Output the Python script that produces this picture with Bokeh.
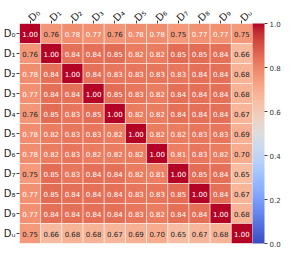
import numpy as np
from bokeh.plotting import figure
from bokeh.models import ColumnDataSource, LinearColorMapper, ColorBar, FixedTicker, PrintfTickFormatter
from bokeh.core.properties import value
from bokeh.embed import file_html
from bokeh.resources import INLINE

labels = ["D\u2080", "D\u2081", "D\u2082", "D\u2083", "D\u2084", "D\u2085",
          "D\u2086", "D\u2087", "D\u2088", "D\u2089", "D\u1d64"]

row_D0 = [1.00, 0.76, 0.78, 0.77, 0.76, 0.78, 0.78, 0.75, 0.77, 0.77, 0.75]
row_D1 = [0.76, 1.00, 0.84, 0.84, 0.85, 0.82, 0.82, 0.85, 0.85, 0.84, 0.66]
row_D2 = [0.78, 0.84, 1.00, 0.84, 0.83, 0.83, 0.83, 0.83, 0.84, 0.84, 0.68]
row_D3 = [0.77, 0.84, 0.84, 1.00, 0.85, 0.83, 0.82, 0.84, 0.84, 0.84, 0.68]
row_D4 = [0.76, 0.85, 0.83, 0.85, 1.00, 0.82, 0.82, 0.84, 0.84, 0.84, 0.67]
row_D5 = [0.78, 0.82, 0.83, 0.83, 0.82, 1.00, 0.82, 0.82, 0.83, 0.83, 0.69]
row_D6 = [0.78, 0.82, 0.83, 0.82, 0.82, 0.82, 1.00, 0.81, 0.83, 0.82, 0.70]
row_D7 = [0.75, 0.85, 0.83, 0.84, 0.84, 0.82, 0.81, 1.00, 0.85, 0.84, 0.65]
row_D8 = [0.77, 0.85, 0.84, 0.84, 0.84, 0.83, 0.83, 0.85, 1.00, 0.84, 0.67]
row_D9 = [0.77, 0.84, 0.84, 0.84, 0.84, 0.83, 0.82, 0.84, 0.84, 1.00, 0.68]
row_Du = [0.75, 0.66, 0.68, 0.68, 0.67, 0.69, 0.70, 0.65, 0.67, 0.68, 1.00]
rows = [row_D0, row_D1, row_D2, row_D3, row_D4, row_D5, row_D6, row_D7, row_D8, row_D9, row_Du]

cbar_ticks = [0.0, 0.2, 0.4, 0.6, 0.8, 1.0]

# coolwarm (Moreland) anchor table -> 256-colour palette
cw = [(59,76,192),(68,90,204),(77,104,215),(87,117,225),(98,130,234),(108,142,241),
      (119,154,247),(130,165,251),(141,176,254),(152,185,255),(163,194,255),(174,201,253),
      (184,208,249),(194,213,244),(204,217,238),(213,219,230),(221,221,221),(229,216,209),
      (236,211,197),(241,204,185),(245,196,173),(247,187,160),(247,177,148),(247,166,135),
      (244,154,123),(241,141,111),(236,127,99),(229,112,88),(222,96,77),(213,80,66),
      (203,62,56),(192,40,47),(180,4,38)]
cw = np.array(cw, dtype=float)
pos = np.linspace(0, 1, len(cw))
t = np.linspace(0, 1, 256)
palette = ["#%02x%02x%02x" % tuple(int(round(np.interp(tt, pos, cw[:, k]))) for k in range(3)) for tt in t]

xs, ys, vals, txt, tcol = [], [], [], [], []
for i, r in enumerate(rows):
    for j, v in enumerate(r):
        xs.append(labels[j]); ys.append(labels[i]); vals.append(v)
        txt.append("%.2f" % v)
        tcol.append("#ffffff" if v >= 0.765 else "#262626")

src = ColumnDataSource(dict(x=xs, y=ys, v=vals, t=txt, c=tcol))
mapper = LinearColorMapper(palette=palette, low=0.0, high=1.0)

p = figure(width=283, height=248, x_range=labels, y_range=list(reversed(labels)),
           x_axis_location="above", output_backend="svg", toolbar_location=None,
           min_border_left=0, min_border_right=0, min_border_top=0, min_border_bottom=5)
p.rect(x="x", y="y", width=1, height=1, source=src,
       fill_color={"field": "v", "transform": mapper},
       line_color="white", line_alpha=0.6, line_width=0.8)
p.text(x="x", y="y", text="t", source=src, text_color="c", text_align="center",
       text_baseline="middle", text_font=value("DejaVu Sans"), text_font_size="7px")

p.grid.visible = False
p.outline_line_color = None
p.background_fill_color = "white"
for ax in (p.xaxis[0], p.yaxis[0]):
    ax.axis_line_color = None
    ax.major_tick_in = 0
    ax.major_tick_out = 3
    ax.major_tick_line_color = "#444444"
    ax.major_label_text_font = "DejaVu Sans"
    ax.major_label_text_font_size = "10px"
    ax.major_label_text_color = "#222222"
    ax.major_label_standoff = 1
p.xaxis.major_label_orientation = np.pi / 4

cb = ColorBar(color_mapper=mapper, ticker=FixedTicker(ticks=cbar_ticks),
              formatter=PrintfTickFormatter(format="%.1f"),
              width=12, height="auto", margin=11, padding=0,
              major_tick_in=0, major_tick_out=3, major_tick_line_color="#444444",
              major_label_text_font="DejaVu Sans", major_label_text_font_size="7px",
              major_label_text_color="#333333", label_standoff=2,
              background_fill_alpha=0, border_line_color=None, bar_line_color=None)
p.add_layout(cb, "right")

open("out.html", "w").write(file_html(p, INLINE))
